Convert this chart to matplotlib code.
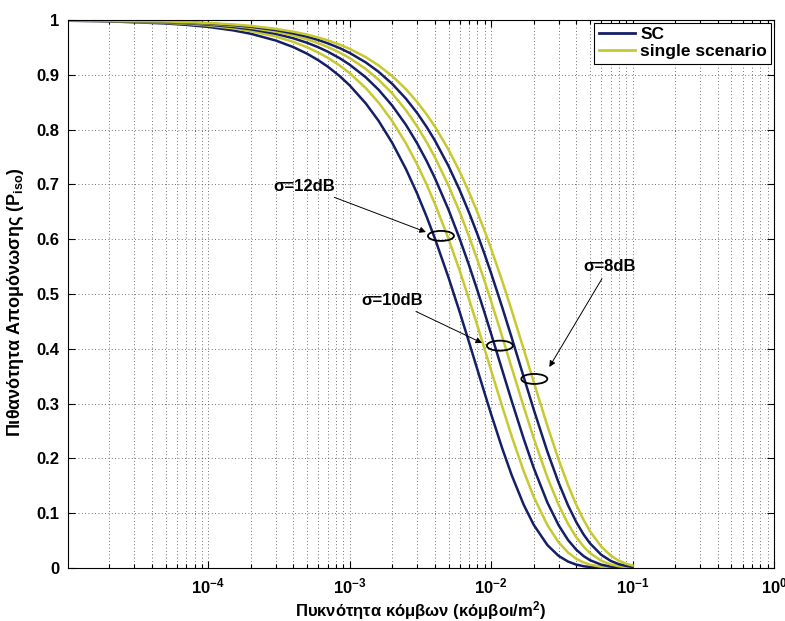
import matplotlib
matplotlib.use("Agg")
import matplotlib.pyplot as plt
from matplotlib.patches import Ellipse
from matplotlib.ticker import FixedLocator, NullFormatter

plt.rcParams["font.family"] = ["Liberation Sans", "DejaVu Sans"]
plt.rcParams["font.weight"] = "bold"
plt.rcParams["mathtext.fontset"] = "custom"
plt.rcParams["mathtext.rm"] = "Liberation Sans:bold"
plt.rcParams["mathtext.it"] = "Liberation Sans:bold"
plt.rcParams["mathtext.bf"] = "Liberation Sans:bold"

# πυκνότητα κόμβων (κόμβοι/m^2)
density = [1e-5, 2e-5, 5e-5, 7e-5, 1e-4, 1.5e-4, 2e-4, 3e-4, 4e-4, 5e-4,
           6e-4, 7e-4, 8.5e-4, 1e-3, 1.3e-3, 1.6e-3, 2e-3, 2.5e-3, 3e-3,
           3.5e-3, 4e-3, 5e-3, 6e-3, 7e-3, 8e-3, 9e-3, 1e-2, 1.2e-2, 1.4e-2,
           1.7e-2, 2e-2, 2.5e-2, 3e-2, 3.5e-2, 4e-2, 4.5e-2, 5e-2, 6e-2,
           7e-2, 8e-2, 9e-2, 1e-1]

# SC, σ = 12 / 10 / 8 dB
sc_12db = [0.9987, 0.9975, 0.9937, 0.9911, 0.9874, 0.9811, 0.9749, 0.9626,
           0.9505, 0.9385, 0.9266, 0.9149, 0.8977, 0.8807, 0.8478, 0.8161,
           0.7757, 0.7280, 0.6832, 0.6411, 0.6017, 0.5299, 0.4668, 0.4111,
           0.3620, 0.3189, 0.2808, 0.2178, 0.1690, 0.1154, 0.0789, 0.0418,
           0.0221, 0.0117, 0.0062, 0.0033, 0.0017, 0.0005, 0.0001, 0.0,
           0.0, 0.0]
sc_10db = [0.9992, 0.9983, 0.9958, 0.9941, 0.9915, 0.9873, 0.9831, 0.9748,
           0.9666, 0.9584, 0.9503, 0.9422, 0.9303, 0.9185, 0.8954, 0.8728,
           0.8437, 0.8086, 0.7749, 0.7427, 0.7118, 0.6538, 0.6005, 0.5516,
           0.5066, 0.4653, 0.4274, 0.3606, 0.3042, 0.2357, 0.1827, 0.1194,
           0.0781, 0.0510, 0.0334, 0.0218, 0.0143, 0.0061, 0.0026, 0.0011,
           0.0005, 0.0002]
sc_8db = [0.9994, 0.9988, 0.9969, 0.9957, 0.9938, 0.9907, 0.9877, 0.9816,
          0.9755, 0.9695, 0.9635, 0.9575, 0.9487, 0.9399, 0.9226, 0.9056,
          0.8834, 0.8564, 0.8303, 0.8049, 0.7804, 0.7334, 0.6894, 0.6479,
          0.6090, 0.5724, 0.5379, 0.4752, 0.4198, 0.3485, 0.2894, 0.2122,
          0.1557, 0.1142, 0.0837, 0.0614, 0.0450, 0.0242, 0.0130, 0.0070,
          0.0038, 0.0020]

# single scenario, σ = 12 / 10 / 8 dB
ss_12db = [0.9990, 0.9980, 0.9949, 0.9929, 0.9899, 0.9848, 0.9798, 0.9699,
           0.9600, 0.9503, 0.9406, 0.9311, 0.9170, 0.9030, 0.8758, 0.8494,
           0.8155, 0.7749, 0.7364, 0.6998, 0.6650, 0.6005, 0.5423, 0.4897,
           0.4422, 0.3993, 0.3606, 0.2941, 0.2398, 0.1766, 0.1300, 0.0781,
           0.0469, 0.0282, 0.0169, 0.0102, 0.0061, 0.0022, 0.0008, 0.0003,
           0.0001, 0.0]
ss_10db = [0.9993, 0.9986, 0.9964, 0.9950, 0.9928, 0.9893, 0.9857, 0.9786,
           0.9716, 0.9646, 0.9577, 0.9508, 0.9406, 0.9305, 0.9106, 0.8912,
           0.8659, 0.8353, 0.8057, 0.7772, 0.7498, 0.6977, 0.6492, 0.6041,
           0.5621, 0.5231, 0.4868, 0.4215, 0.3649, 0.2941, 0.2369, 0.1653,
           0.1153, 0.0805, 0.0561, 0.0392, 0.0273, 0.0133, 0.0065, 0.0032,
           0.0015, 0.0007]
ss_8db = [0.9995, 0.9989, 0.9973, 0.9962, 0.9946, 0.9919, 0.9893, 0.9839,
          0.9786, 0.9734, 0.9681, 0.9629, 0.9551, 0.9474, 0.9322, 0.9172,
          0.8976, 0.8737, 0.8504, 0.8278, 0.8057, 0.7634, 0.7233, 0.6852,
          0.6492, 0.6151, 0.5827, 0.5231, 0.4695, 0.3993, 0.3396, 0.2592,
          0.1979, 0.1511, 0.1153, 0.0880, 0.0672, 0.0392, 0.0228, 0.0133,
          0.0077, 0.0045]

x_ticks = [1e-4, 1e-3, 1e-2, 1e-1, 1e0]
x_tick_labels = [r"$10^{-4}$", r"$10^{-3}$", r"$10^{-2}$", r"$10^{-1}$", r"$10^{0}$"]
y_ticks = [0, 0.1, 0.2, 0.3, 0.4, 0.5, 0.6, 0.7, 0.8, 0.9, 1]
y_tick_labels = ["0", "0.1", "0.2", "0.3", "0.4", "0.5", "0.6", "0.7", "0.8", "0.9", "1"]

# ελλείψεις γύρω από κάθε ζεύγος καμπυλών: (κείμενο, κέντρο, αιχμή βέλους, θέση κειμένου)
marks = [
    ("σ=12dB", (4.42e-3, 0.606), (3.46e-3, 0.613), (4.80e-4, 0.697)),
    ("σ=10dB", (1.153e-2, 0.4057), (8.63e-3, 0.4106), (1.99e-3, 0.489)),
    ("σ=8dB", (2.02e-2, 0.345), (2.58e-2, 0.3668), (6.87e-2, 0.551)),
]

SC_COLOR = "#141f66"
SS_COLOR = "#c8c830"

fig = plt.figure(figsize=(7.85, 6.21), dpi=100)
ax = fig.add_axes([68 / 785, 1 - 568 / 621, 706 / 785, 548 / 621])

for k, (sc, ss) in enumerate([(sc_12db, ss_12db), (sc_10db, ss_10db), (sc_8db, ss_8db)]):
    ax.plot(density, sc, color=SC_COLOR, lw=1.8, solid_joinstyle="round",
            label="SC" if k == 0 else None)
    ax.plot(density, ss, color=SS_COLOR, lw=1.8, solid_joinstyle="round",
            label="single scenario" if k == 0 else None)

ax.set_xscale("log")
ax.set_xlim(1.02e-5, 1.0)
ax.set_ylim(0, 1)

ax.xaxis.set_major_locator(FixedLocator(x_ticks))
ax.set_xticklabels(x_tick_labels)
minor = [m * 10.0 ** e for e in range(-5, 0) for m in range(2, 10)]
ax.xaxis.set_minor_locator(FixedLocator(minor))
ax.xaxis.set_minor_formatter(NullFormatter())
ax.set_yticks(y_ticks)
ax.set_yticklabels(y_tick_labels)

ax.tick_params(which="both", direction="in", top=True, right=True,
               labelsize=12, width=0.8, colors="black")
ax.tick_params(which="major", length=5)
ax.tick_params(which="minor", length=3)
ax.tick_params(axis="x", pad=6)
ax.tick_params(axis="y", pad=6)

ax.grid(True, which="major", color="#444444", ls=(0, (1, 3)), lw=0.6)
ax.grid(True, which="minor", axis="x", color="#444444", ls=(0, (1, 3)), lw=0.6)
for sp in ax.spines.values():
    sp.set_linewidth(0.8)

ax.set_xlabel(r"Πυκνότητα κόμβων (κόμβοι/m$^{2}$)", fontsize=12,
              fontweight="bold", labelpad=2)
ax.set_ylabel(r"Πιθανότητα Απομόνωσης (P$_{iso}$)", fontsize=13,
              fontweight="bold")
ax.yaxis.set_label_coords(-0.06, 0.485)

fig.canvas.draw()
to_axes = ax.transAxes.inverted()
for text, center, tip, text_pos in marks:
    cx, cy = to_axes.transform(ax.transData.transform(center))
    ax.add_patch(Ellipse((cx, cy), 26 / 706, 10 / 548, transform=ax.transAxes,
                         fill=False, ec="black", lw=1.3, zorder=5))
    ax.annotate(text, xy=tip, xytext=text_pos, ha="center", va="center",
                fontsize=12, fontweight="bold",
                arrowprops=dict(arrowstyle="-|>", color="black", lw=0.7,
                                mutation_scale=9, shrinkA=2, shrinkB=0))

leg = ax.legend(loc="upper right", fontsize=12.5, frameon=True, fancybox=False,
                framealpha=1, edgecolor="black", borderpad=0.25,
                handlelength=2.1, handletextpad=0.3, labelspacing=0.12,
                borderaxespad=0.15)
leg.get_frame().set_linewidth(0.8)
for h in leg.get_lines():
    h.set_linewidth(2.0)

fig.savefig("out.png", dpi=100)
